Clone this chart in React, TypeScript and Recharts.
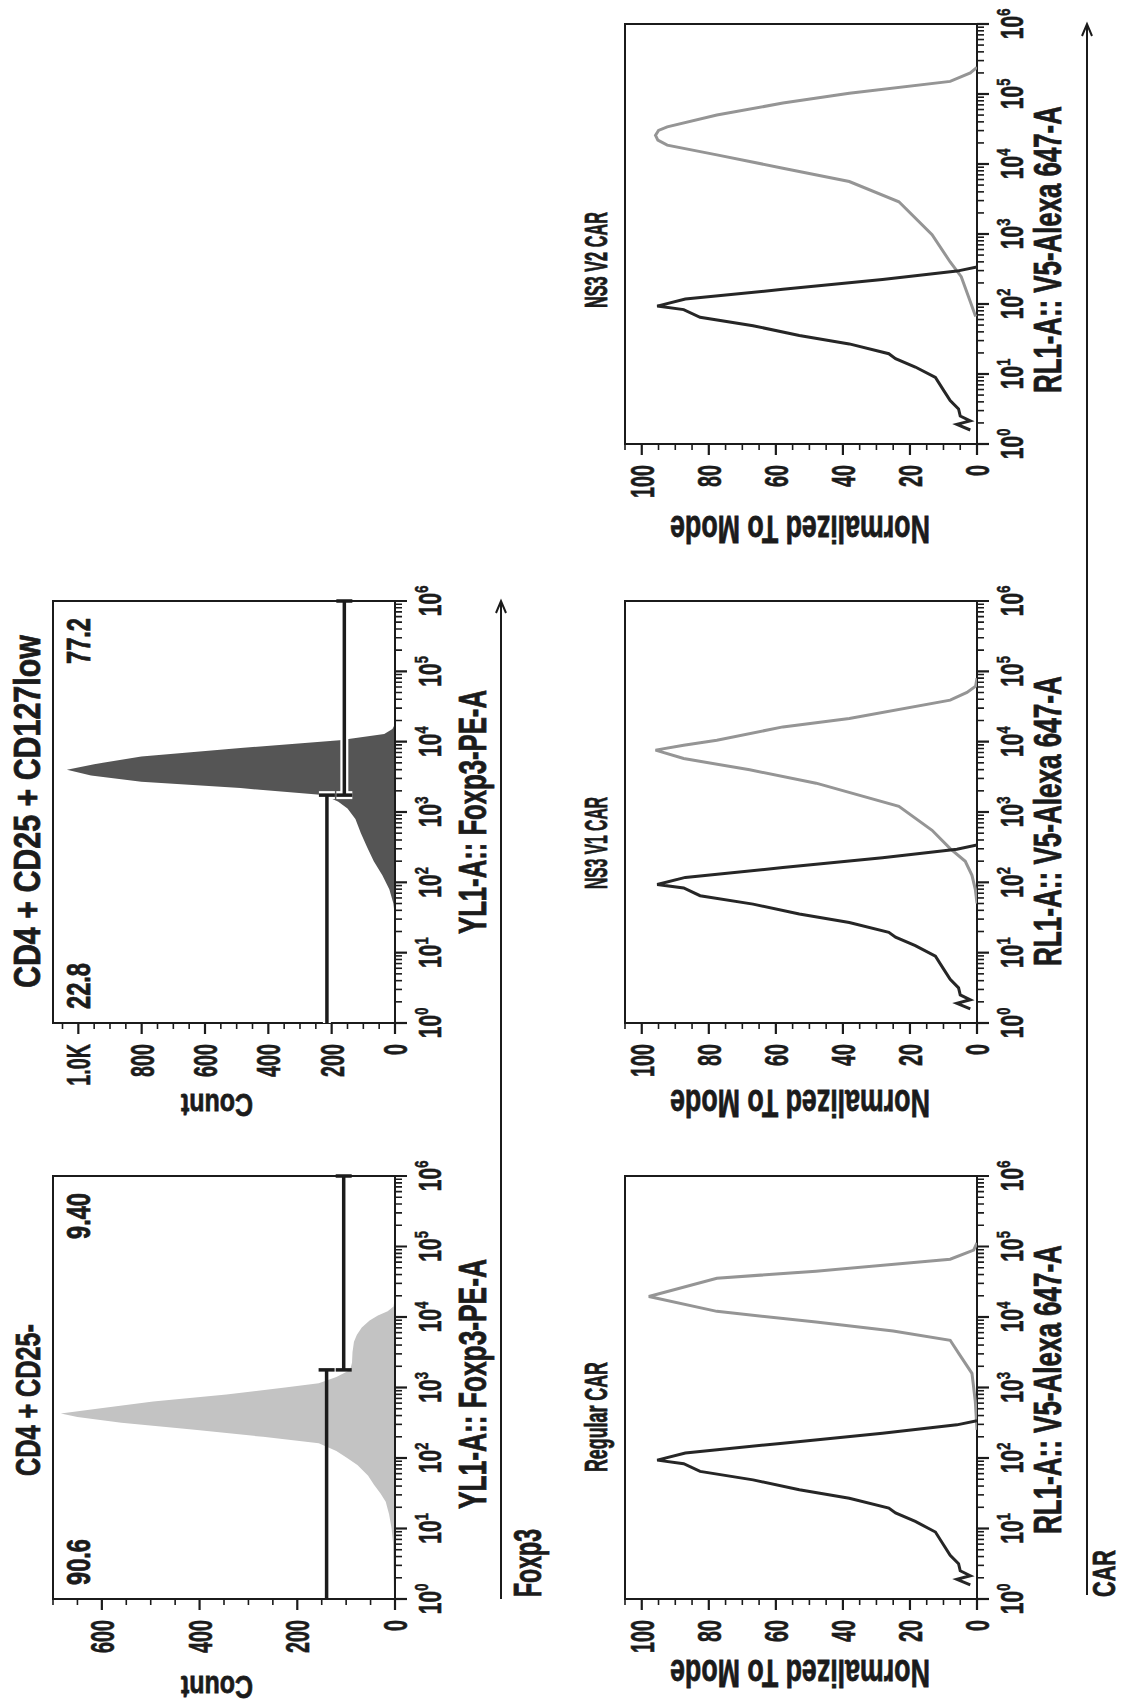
import React from "react";
import {
  ComposedChart,
  Area,
  Line,
  XAxis,
  YAxis,
  ReferenceArea,
  ReferenceLine,
} from "recharts";

const FONT = "'Liberation Sans', Arial, Helvetica, sans-serif";
const INK = "#1b1b1b";

// x values are decades: 0 = 10^0 ... 6 = 10^6
const cd25negDecade = [0, 0.4, 0.8, 1.0, 1.2, 1.38, 1.5, 1.62, 1.75, 1.9, 2.0, 2.1, 2.21, 2.3, 2.4, 2.5, 2.58, 2.63, 2.7, 2.8, 2.9, 3.0, 3.06, 3.15, 3.25, 3.35, 3.5, 3.65, 3.75, 3.85, 3.95, 4.02, 4.08, 4.15, 4.3, 6];
const cd25negCount = [2, 3, 4, 7, 12, 19, 30, 43, 55, 77, 98, 120, 156, 270, 410, 560, 650, 684, 610, 495, 345, 225, 156, 120, 92, 88, 87, 84, 78, 68, 52, 35, 15, 3, 0, 0];

const cd127lowDecade = [0, 1.5, 1.7, 1.9, 2.1, 2.3, 2.5, 2.7, 2.9, 3.05, 3.15, 3.24, 3.34, 3.43, 3.52, 3.6, 3.68, 3.79, 3.91, 4.02, 4.11, 4.18, 4.25, 6];
const cd127lowCount = [0, 0, 5, 18, 40, 67, 88, 108, 125, 150, 180, 227, 488, 801, 960, 1036, 950, 801, 488, 175, 34, 8, 0, 0];

// untransduced control, same in the three CAR panels
const controlDecade = [0.2, 0.28, 0.33, 0.4, 0.5, 0.62, 0.77, 0.95, 1.1, 1.22, 1.29, 1.43, 1.55, 1.69, 1.81, 1.92, 1.97, 2.07, 2.21, 2.35, 2.47, 2.53];
const controlPct = [2, 6, 2, 5, 5.5, 8, 10, 12.4, 18.4, 24.3, 26.3, 38.1, 53, 66.8, 82.6, 87.5, 95.4, 87, 57.9, 28.2, 6, 0];

const regularDecade = [2.4, 2.8, 3.2, 3.48, 3.67, 3.8, 3.93, 4.08, 4.29, 4.55, 4.65, 4.82, 4.95, 5.05];
const regularPct = [0, 0.5, 1.5, 5.4, 8, 25, 48, 77.6, 97.9, 77.6, 48, 8, 1, 0];

const v1Decade = [1.7, 1.9, 2.1, 2.3, 2.48, 2.74, 3.08, 3.41, 3.6, 3.76, 3.88, 3.95, 4.02, 4.21, 4.33, 4.59, 4.7, 4.79, 4.9];
const v1Pct = [0, 0.5, 1.5, 3.5, 8, 13.4, 23.3, 48, 67.8, 87.5, 95.9, 87.5, 77.6, 57.9, 38.1, 8, 3, 0.4, 0];

const v2Decade = [1.82, 2.1, 2.39, 2.6, 2.99, 3.46, 3.75, 3.94, 4.13, 4.27, 4.34, 4.41, 4.48, 4.53, 4.7, 4.87, 5.01, 5.18, 5.3, 5.38];
const v2Pct = [0.4, 2.5, 4.7, 8, 13.4, 23.3, 38.1, 57.9, 77.6, 92.4, 95.2, 95.9, 95, 92.4, 77.6, 57.9, 38.1, 8, 2, 0];

// gates
const cd25negGateSplit = 3.25;
const cd25negGateLevels = [140, 105];
const cd25negGatePct = ["90.6", "9.40"];
const cd127lowGateSplit = 3.24;
const cd127lowGateLevels = [215, 160];
const cd127lowGatePct = ["22.8", "77.2"];

// ticks / text
const decadeTicks = [0, 1, 2, 3, 4, 5, 6];
const countTitles = ["CD4 + CD25-", "CD4 + CD25 + CD127low"];
const carTitles = ["Regular CAR", "NS3 V1 CAR", "NS3 V2 CAR"];
const countAxisLabel = "YL1-A:: Foxp3-PE-A";
const carAxisLabel = "RL1-A:: V5-Alexa 647-A";

const zip = (xs: number[], ys: number[]) => xs.map((d, i) => ({ d, v: ys[i] }));

const logTicks = decadeTicks.flatMap((k) =>
  k === 6 ? [k] : [k, ...[2, 3, 4, 5, 6, 7, 8, 9].map((m) => k + Math.log10(m))]
);
const steps = (max: number, step: number) => {
  const t: number[] = [];
  for (let v = 0; v <= max + 0.001; v += step) t.push(v);
  return t;
};

// text width, used to squeeze labels to the narrow lettering of the scan
let ctx: CanvasRenderingContext2D | null = null;
function textWidth(s: string, size: number) {
  if (!ctx) ctx = document.createElement("canvas").getContext("2d");
  if (!ctx) return s.length * size * 0.55;
  ctx.font = `bold ${size}px 'Liberation Sans', Arial, sans-serif`;
  return ctx.measureText(s).width;
}

// layout of the landscape figure (it is shown turned 90deg)
const FRAME_W = 1707;
const FRAME_H = 1122;
type Box = { x: number; y: number; w: number; h: number };
const countBoxes: Box[] = [
  { x: 108, y: 53, w: 423, h: 342 },
  { x: 684, y: 53, w: 422, h: 342 },
];
const carBoxes: Box[] = [
  { x: 108, y: 625, w: 423, h: 352 },
  { x: 684, y: 625, w: 422, h: 352 },
  { x: 1263, y: 625, w: 420, h: 352 },
];
const ML = 90;
const MR = 34;
const MT = 12;
const MB = 64;

function LogTick(props: any) {
  const { x, y, payload } = props;
  const v = payload.value as number;
  const major = Math.abs(v - Math.round(v)) < 1e-6;
  return (
    <g>
      <line x1={x} x2={x} y1={y} y2={y + (major ? 12 : 7)} stroke={INK} strokeWidth={major ? 2.2 : 1.6} />
      {major && (
        <g transform={`translate(${x},${y + 46}) scale(0.68,1)`}>
          <text x={0} y={0} textAnchor="middle" fontFamily={FONT} fontWeight={700} fontSize={31} fill={INK} stroke={INK} strokeWidth={0.6}>
            10
            <tspan dy={-13} fontSize={19}>
              {Math.round(v)}
            </tspan>
          </text>
        </g>
      )}
    </g>
  );
}

function makeValueTick(majorStep: number, fmt: (v: number) => string) {
  return (props: any) => {
    const { x, y, payload } = props;
    const v = payload.value as number;
    const major = Math.round(v) % majorStep === 0;
    return (
      <g>
        <line x1={x} x2={x - (major ? 11 : 6)} y1={y} y2={y} stroke={INK} strokeWidth={major ? 2.2 : 1.6} />
        {major && (
          <g transform={`translate(${x - 21},${y + 12}) scale(0.58,1)`}>
            <text x={0} y={0} textAnchor="end" fontFamily={FONT} fontWeight={700} fontSize={34} fill={INK} stroke={INK} strokeWidth={0.6}>
              {fmt(v)}
            </text>
          </g>
        )}
      </g>
    );
  };
}

const countTick = makeValueTick(200, (v) => (v === 1000 ? "1.0K" : String(v)));
const modeTick = makeValueTick(20, (v) => String(v));

function Panel({ box, yMax, yTicks, tick, data, children }: any) {
  return (
    <div style={{ position: "absolute", left: box.x - ML, top: box.y - MT }}>
      <ComposedChart
        width={box.w + ML + MR}
        height={box.h + MT + MB}
        data={data}
        margin={{ top: MT, right: MR, bottom: 0, left: 0 }}
      >
        <XAxis
          type="number"
          dataKey="d"
          domain={[0, 6]}
          ticks={logTicks}
          interval={0}
          tickSize={0}
          tickMargin={0}
          tickLine={false}
          axisLine={false}
          height={MB}
          tick={(p: any) => <LogTick {...p} />}
          allowDataOverflow
        />
        <YAxis
          type="number"
          domain={[0, yMax]}
          ticks={yTicks}
          interval={0}
          tickSize={0}
          tickMargin={0}
          tickLine={false}
          axisLine={false}
          width={ML}
          tick={tick}
          allowDataOverflow
        />
        {children}
        <ReferenceArea x1={0} x2={6} y1={0} y2={yMax} fill="none" stroke={INK} strokeWidth={2} ifOverflow="visible" />
      </ComposedChart>
    </div>
  );
}

function gateSegments(split: number, levels: number[], cap: number) {
  return [
    [{ x: 0, y: levels[0] }, { x: split, y: levels[0] }],
    [{ x: split, y: levels[0] - cap }, { x: split, y: levels[0] + cap }],
    [{ x: split, y: levels[1] }, { x: 6, y: levels[1] }],
    [{ x: split, y: levels[1] - cap }, { x: split, y: levels[1] + cap }],
    [{ x: 6, y: levels[1] - cap }, { x: 6, y: levels[1] + cap }],
  ];
}

function CountPanel({ box, yMax, decade, count, fill, split, levels, halo }: any) {
  const cap = (8 * yMax) / box.h;
  const segs = gateSegments(split, levels, cap);
  return (
    <Panel box={box} yMax={yMax} yTicks={steps(yMax, 50)} tick={countTick} data={zip(decade, count)}>
      <Area type="linear" dataKey="v" stroke="none" fill={fill} fillOpacity={1} dot={false} activeDot={false} isAnimationActive={false} />
      {halo &&
        segs.slice(0, 4).map((s, i) => (
          <ReferenceLine key={`h${i}`} segment={s} stroke="#ffffff" strokeWidth={8} ifOverflow="visible" />
        ))}
      {segs.map((s, i) => (
        <ReferenceLine key={`g${i}`} segment={s} stroke={INK} strokeWidth={3.5} ifOverflow="visible" />
      ))}
    </Panel>
  );
}

function CarPanel({ box, decade, pct }: any) {
  return (
    <Panel box={box} yMax={105} yTicks={steps(105, 5)} tick={modeTick}>
      <Line data={zip(decade, pct)} type="linear" dataKey="v" stroke="#959595" strokeWidth={3} dot={false} activeDot={false} isAnimationActive={false} />
      <Line data={zip(controlDecade, controlPct)} type="linear" dataKey="v" stroke="#262626" strokeWidth={3} dot={false} activeDot={false} isAnimationActive={false} />
    </Panel>
  );
}

// horizontal text squeezed to a given length
function T({ x, y, len, size, anchor, children }: any) {
  const start = anchor === "middle" ? x - len / 2 : anchor === "end" ? x - len : x;
  const sx = len / textWidth(String(children), size);
  return (
    <g transform={`translate(${start},${y}) scale(${sx},1)`}>
      <text x={0} y={0} fontFamily={FONT} fontWeight={700} fontSize={size} fill={INK} stroke={INK} strokeWidth={0.8}>
        {children}
      </text>
    </g>
  );
}

// text reading bottom to top, centred on cy
function VT({ x, cy, len, size, children }: any) {
  const sx = len / textWidth(String(children), size);
  return (
    <g transform={`translate(${x},${cy}) rotate(-90) scale(${sx},1)`}>
      <text x={0} y={0} textAnchor="middle" fontFamily={FONT} fontWeight={700} fontSize={size} fill={INK} stroke={INK} strokeWidth={0.8}>
        {children}
      </text>
    </g>
  );
}

function Arrow({ x1, x2, y }: any) {
  return (
    <g stroke={INK} strokeWidth={2} fill="none">
      <line x1={x1} x2={x2} y1={y} y2={y} />
      <path d={`M ${x2 - 12} ${y - 5} L ${x2} ${y} L ${x2 - 12} ${y + 5}`} />
    </g>
  );
}

const countTitlePos = [{ x: 231, len: 152 }, { x: 719, len: 353 }];
const carTitlePos = [{ x: 290, len: 110 }, { x: 864, len: 92 }, { x: 1447, len: 96 }];
const countXLabelPos = [{ x: 198, len: 250 }, { x: 773, len: 244 }];
const carXLabelPos = [{ x: 173, len: 289 }, { x: 741, len: 290 }, { x: 1314, len: 287 }];
const countYLabelX = [31, 613];
const carYLabelX = [47, 617, 1191];

export default function App() {
  const countPct = [cd25negGatePct, cd127lowGatePct];
  return (
    <div style={{ position: "absolute", left: 0, top: 0, width: FRAME_H, height: FRAME_W, overflow: "hidden", background: "#fff" }}>
      <div
        style={{
          position: "absolute",
          left: 0,
          top: 0,
          width: FRAME_W,
          height: FRAME_H,
          transformOrigin: "0 0",
          transform: `translateY(${FRAME_W}px) rotate(-90deg)`,
        }}
      >
        <CountPanel box={countBoxes[0]} yMax={700} decade={cd25negDecade} count={cd25negCount} fill="#c3c3c3" split={cd25negGateSplit} levels={cd25negGateLevels} />
        <CountPanel box={countBoxes[1]} yMax={1080} decade={cd127lowDecade} count={cd127lowCount} fill="#555555" split={cd127lowGateSplit} levels={cd127lowGateLevels} halo />
        <CarPanel box={carBoxes[0]} decade={regularDecade} pct={regularPct} />
        <CarPanel box={carBoxes[1]} decade={v1Decade} pct={v1Pct} />
        <CarPanel box={carBoxes[2]} decade={v2Decade} pct={v2Pct} />

        <svg width={FRAME_W} height={FRAME_H} style={{ position: "absolute", left: 0, top: 0, pointerEvents: "none" }}>
          {countTitles.map((t, i) => (
            <T key={t} x={countTitlePos[i].x} y={40} len={countTitlePos[i].len} size={36}>{t}</T>
          ))}
          {carTitles.map((t, i) => (
            <T key={t} x={carTitlePos[i].x} y={607} len={carTitlePos[i].len} size={32} anchor="middle">{t}</T>
          ))}
          {countXLabelPos.map((p, i) => (
            <T key={i} x={p.x} y={486} len={p.len} size={38}>{countAxisLabel}</T>
          ))}
          {carXLabelPos.map((p, i) => (
            <T key={i} x={p.x} y={1061} len={p.len} size={38}>{carAxisLabel}</T>
          ))}
          {countYLabelX.map((x, i) => (
            <VT key={i} x={x} cy={217} len={72} size={32}>Count</VT>
          ))}
          {carYLabelX.map((x, i) => (
            <VT key={i} x={x} cy={800} len={260} size={38}>Normalized To Mode</VT>
          ))}
          {countPct.map((pct, i) => {
            const b = countBoxes[i];
            return (
              <g key={i}>
                <T x={b.x + 14} y={b.y + 37} len={46} size={34}>{pct[0]}</T>
                <T x={b.x + b.w - 17} y={b.y + 37} len={46} size={34} anchor="end">{pct[1]}</T>
              </g>
            );
          })}
          <Arrow x1={108} x2={1106} y={501} />
          <T x={110} y={541} len={68} size={38}>Foxp3</T>
          <Arrow x1={112} x2={1683} y={1087} />
          <T x={110} y={1115} len={47} size={32}>CAR</T>
        </svg>
      </div>
    </div>
  );
}
